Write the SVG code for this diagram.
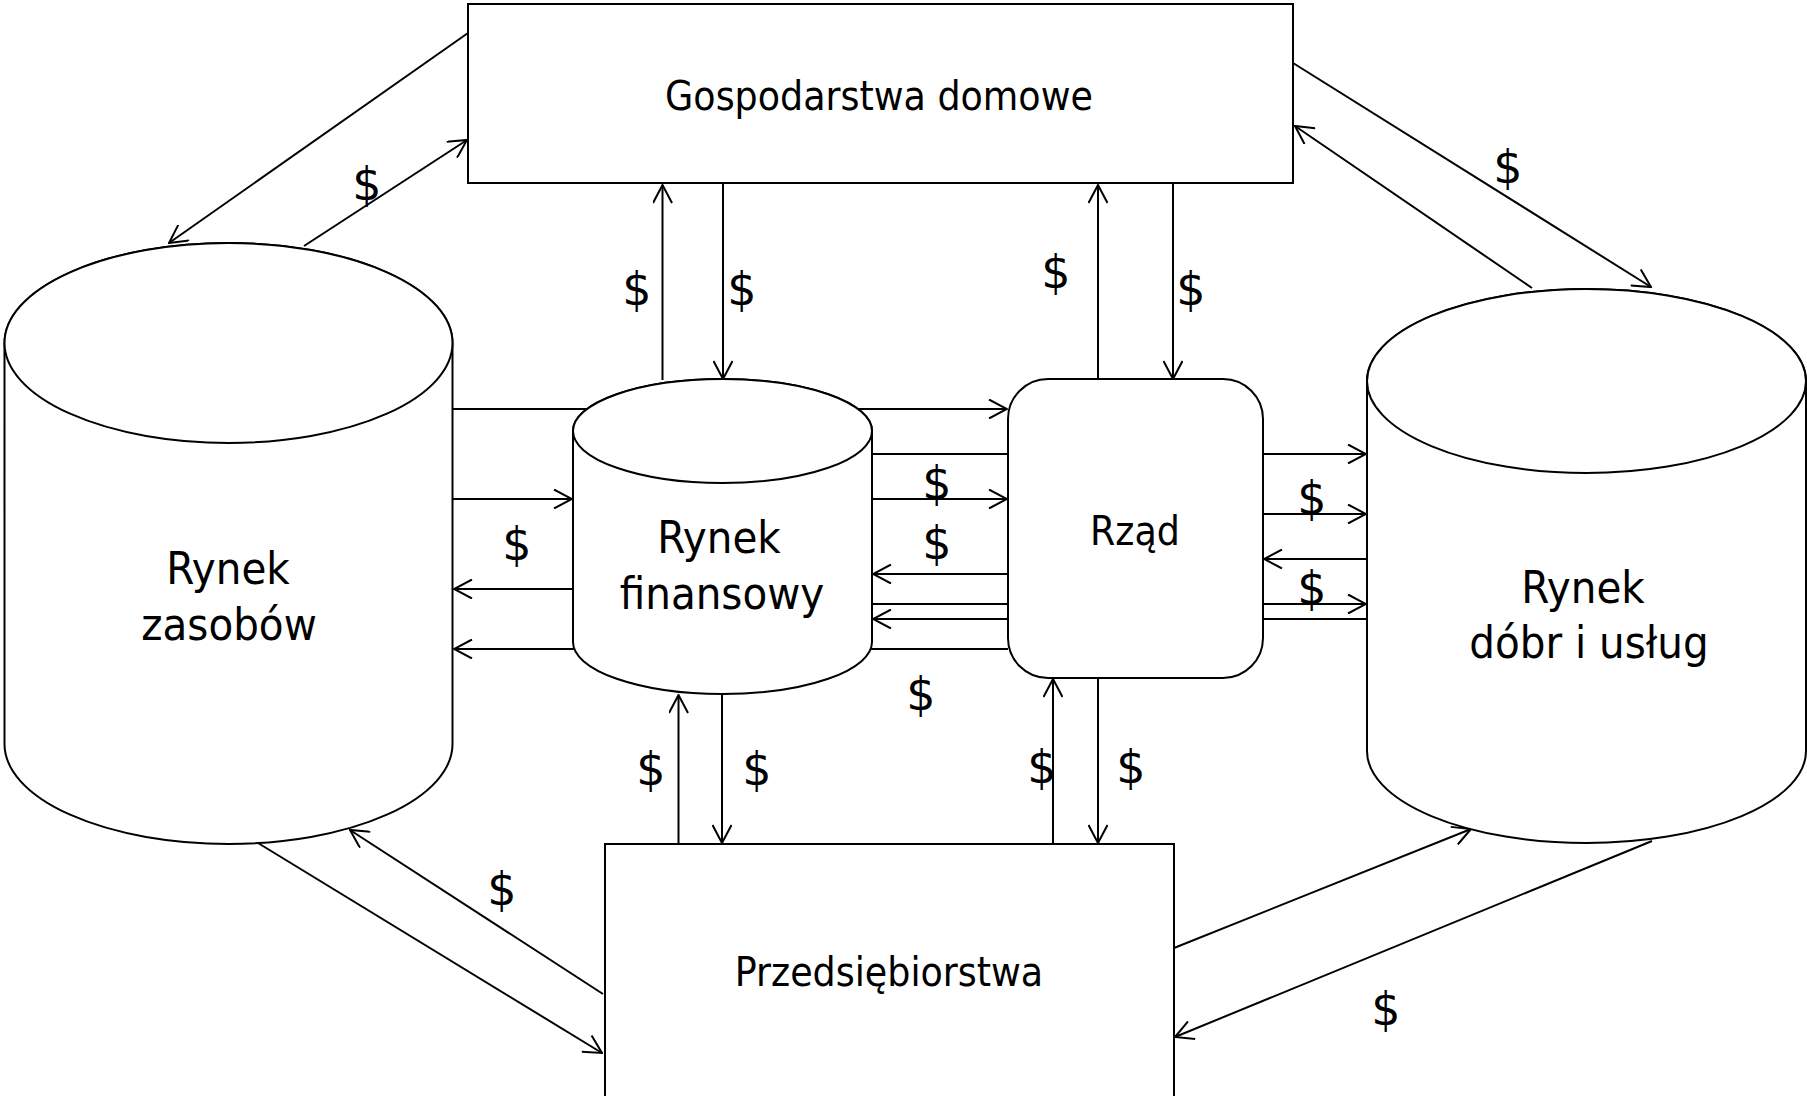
<svg xmlns="http://www.w3.org/2000/svg" width="1807" height="1096" viewBox="0 0 1807 1096">
<style>
.nd{fill:#fff;stroke:#000;stroke-width:2}
.cn{fill:none;stroke:#000;stroke-width:2;marker-end:url(#ah)}
.lb{font-family:"DejaVu Sans Condensed","DejaVu Sans",Tahoma,sans-serif;font-stretch:condensed;fill:#000;text-anchor:middle}
.big{font-size:45px}
.mid{font-size:40.5px}
.d{font-family:"DejaVu Sans",Verdana,sans-serif;font-size:46px;fill:#000;text-anchor:middle}
</style>
<defs>
<marker id="ah" viewBox="0 0 20 20" refX="19" refY="10" markerWidth="20" markerHeight="20" orient="auto" markerUnits="userSpaceOnUse">
<path d="M1,0.5 L19,10 L1,19.5" fill="none" stroke="#000" stroke-width="2"/>
</marker>
</defs>
<rect width="1807" height="1096" fill="#fff"/>
<g id="connectors">
<line class="cn" x1="468" y1="33" x2="169" y2="243"/>
<line class="cn" x1="304" y1="246" x2="467" y2="140"/>
<line class="cn" x1="662.5" y1="380" x2="662.5" y2="185"/>
<line class="cn" x1="723" y1="183" x2="723" y2="379"/>
<line class="cn" x1="1098" y1="379" x2="1098" y2="185"/>
<line class="cn" x1="1173" y1="183" x2="1173" y2="379"/>
<line class="cn" x1="1293" y1="63" x2="1651" y2="287"/>
<line class="cn" x1="1532" y1="288" x2="1295" y2="126"/>
<line class="cn" x1="453" y1="409" x2="1007" y2="409"/>
<line class="cn" x1="453" y1="499" x2="572" y2="499"/>
<line class="cn" x1="573" y1="589" x2="454" y2="589"/>
<line class="cn" x1="1008" y1="649" x2="454" y2="649"/>
<line class="cn" x1="872" y1="454" x2="1366" y2="454"/>
<line class="cn" x1="872" y1="499" x2="1007" y2="499"/>
<line class="cn" x1="1008" y1="574" x2="873" y2="574"/>
<line class="cn" x1="872" y1="604" x2="1366" y2="604"/>
<line class="cn" x1="1367" y1="619" x2="873" y2="619"/>
<line class="cn" x1="1263" y1="514" x2="1366" y2="514"/>
<line class="cn" x1="1367" y1="559" x2="1264" y2="559"/>
<line class="cn" x1="678.5" y1="844" x2="678.5" y2="695"/>
<line class="cn" x1="722" y1="693" x2="722" y2="843"/>
<line class="cn" x1="1053" y1="844" x2="1053" y2="679"/>
<line class="cn" x1="1098" y1="678" x2="1098" y2="843"/>
<line class="cn" x1="258" y1="843" x2="602" y2="1053"/>
<line class="cn" x1="603" y1="994" x2="350" y2="830"/>
<line class="cn" x1="1174" y1="948" x2="1471" y2="829"/>
<line class="cn" x1="1652" y1="841" x2="1175" y2="1037"/>
</g>
<g id="dollars">
<text class="d" x="367" y="200">$</text>
<text class="d" x="637" y="305">$</text>
<text class="d" x="742" y="305">$</text>
<text class="d" x="1056" y="288">$</text>
<text class="d" x="1191" y="305">$</text>
<text class="d" x="1508" y="183">$</text>
<text class="d" x="517" y="560">$</text>
<text class="d" x="937" y="499">$</text>
<text class="d" x="937" y="559">$</text>
<text class="d" x="921" y="710">$</text>
<text class="d" x="1312" y="514">$</text>
<text class="d" x="1312" y="604">$</text>
<text class="d" x="651" y="785">$</text>
<text class="d" x="757" y="785">$</text>
<text class="d" x="1042" y="783">$</text>
<text class="d" x="1131" y="783">$</text>
<text class="d" x="502" y="905">$</text>
<text class="d" x="1386" y="1025">$</text>
</g>
<g id="gospodarstwa">
<rect class="nd" x="468" y="4" width="825" height="179"/>
<text class="lb mid" x="879" y="110">Gospodarstwa domowe</text>
</g>
<g id="rynek-zasobow">
<path class="nd" d="M4.5,343 A224,100 0 0 1 452.5,343 L452.5,744 A224,100 0 0 1 4.5,744 Z"/>
<ellipse class="nd" cx="228.5" cy="343" rx="224" ry="100"/>
<text class="lb big" x="228" y="584">Rynek</text>
<text class="lb big" x="229" y="640">zasobów</text>
</g>
<g id="rynek-finansowy">
<path class="nd" d="M573,431 A149.5,52 0 0 1 872,431 L872,642 A149.5,52 0 0 1 573,642 Z"/>
<ellipse class="nd" cx="722.5" cy="431" rx="149.5" ry="52"/>
<text class="lb big" x="719" y="553">Rynek</text>
<text class="lb big" x="722" y="609">finansowy</text>
</g>
<g id="rzad">
<rect class="nd" x="1008" y="379" width="255" height="299" rx="40" ry="40"/>
<text class="lb mid" x="1135" y="545">Rząd</text>
</g>
<g id="rynek-dobr">
<path class="nd" d="M1367,381 A219.5,92 0 0 1 1806,381 L1806,751 A219.5,92 0 0 1 1367,751 Z"/>
<ellipse class="nd" cx="1586.5" cy="381" rx="219.5" ry="92"/>
<text class="lb big" x="1583" y="603">Rynek</text>
<text class="lb big" x="1589" y="658">dóbr i usług</text>
</g>
<g id="przedsiebiorstwa">
<rect class="nd" x="605" y="844" width="569" height="300"/>
<text class="lb mid" x="889" y="986">Przedsiębiorstwa</text>
</g>
</svg>
